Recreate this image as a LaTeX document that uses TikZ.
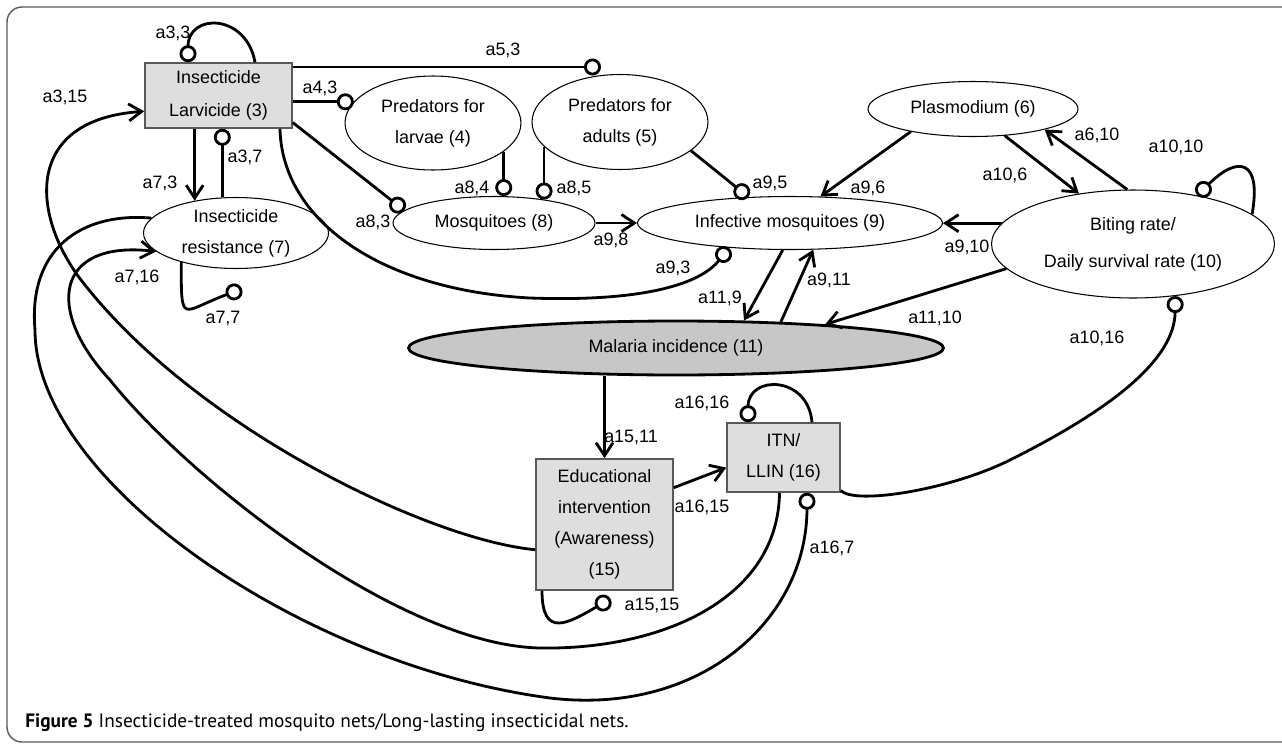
\documentclass[tikz,border=0pt]{standalone}
\usepackage{fontspec}
\setmainfont{Liberation Sans}
\newfontfamily\capfont{PT Sans}
\usetikzlibrary{shapes.geometric,arrows.meta,calc}
\definecolor{boxgray}{gray}{0.87}
\definecolor{malgray}{gray}{0.78}
\definecolor{framegray}{gray}{0.35}
\tikzstyle{box} = [rectangle, draw=black!65, line width=0.9pt, fill=boxgray, inner sep=0pt, align=center]
\tikzstyle{oval} = [ellipse, draw=black, line width=0.6pt, inner sep=0pt, align=center]
\tikzstyle{arr} = [line width=1.6pt, -{Straight Barb[length=0.26cm,width=0.34cm]}]
\tikzstyle{inh} = [line width=1.6pt, -{Circle[length=0.34cm,fill=white]}]
\tikzstyle{lbl} = [inner sep=0pt]

\begin{document}
\begin{tikzpicture}[x=0.02cm, y=-0.02cm, font=\fontsize{10.2}{17.6}\selectfont]
\useasboundingbox (0,0) rectangle (1282,744);

    % Frame
    \draw[framegray, line width=0.8pt, rounded corners=0.3cm] (1282,7) -- (7,7) -- (7,742) -- (1282,742);

    % Interventions and state variables
    \node (n3) at (218.5,95.5) [box, minimum width=2.94cm, minimum height=1.30cm] {Insecticide\\[1pt]Larvicide (3)};
    \node (n4) at (433,123) [oval, minimum width=3.52cm, minimum height=1.88cm] {Predators for\\larvae (4)};
    \node (n5) at (620,122) [oval, minimum width=3.52cm, minimum height=1.9cm] {Predators for\\adults (5)};
    \node (n6) at (973,109) [oval, minimum width=4.2cm, minimum height=1.1cm] {Plasmodium (6)};
    \node (n7) at (236,233) [oval, minimum width=3.7cm, minimum height=1.42cm] {Insecticide\\resistance (7)};
    \node (n8) at (494,223) [oval, minimum width=4.04cm, minimum height=1.06cm] {Mosquitoes (8)};
    \node (n9) at (790,223) [oval, minimum width=6.1cm, minimum height=1.06cm] {Infective mosquitoes (9)};
    \node (n10) at (1133,244) [oval, minimum width=5.66cm, minimum height=2.16cm] {Biting rate/\\[3.4pt]Daily survival rate (10)};
    \node (n11) at (676,348) [oval, fill=malgray, line width=1.6pt, minimum width=10.7cm, minimum height=1.08cm] {Malaria incidence (11)};
    \node (n15) at (604.5,524.5) [box, minimum width=2.74cm, minimum height=2.62cm] {Educational\\intervention\\(Awareness)\\(15)};
    \node (n16) at (783.5,457.5) [box, minimum width=2.26cm, minimum height=1.38cm] {ITN/\\LLIN (16)};

    % Free ends of the lollipops
    \coordinate (t53) at ($(n5.north)+(-19,-7)$);
    \coordinate (t77) at ($(n7.south)+(6,20)$);
    \coordinate (t1515) at ($(n15.south)+(6,8)$);

    % Larvicide links
    \draw[inh] ([xshift=0.73cm]n3.north) to[out=100, in=90, looseness=1.9] ([xshift=-0.61cm]n3.north);
    \draw[arr] (n3.south -| n7.142) -- (n7.142);
    \draw[inh] (n7.111) -- (n7.111 |- n3.south);
    \draw[inh] (n3.east |- n4.165) -- (n4.165);
    \draw[inh] (n3.east |- t53) -- (t53);
    \draw[inh] (n3.-20) -- (n8.172);
    \draw[inh] ([xshift=1.23cm]n3.south) .. controls (282,220) and (380,290) .. (530,298) .. controls (640,302) and (700,285) .. (n9.202);

    % Predators and mosquitoes
    \draw[inh] (n4.-22) -- (n4.-22 |- n8.72);
    \draw[inh] (n5.198) -- (n5.198 |- n8.25);
    \draw[inh] (n5.-22) -- (n9.148);
    \draw[arr] (n8) -- (n9);

    % Plasmodium and biting rate
    \draw[arr] (n6.200) -- (n9.41);
    \draw[arr] (n6.-40) -- (n10.137);
    \draw[arr] (n10.96) -- (n6.-16);
    \draw[inh] (n10.14) to[out=80, in=45, looseness=2.5] (n10.37);
    \draw[arr] (n10.171) -- (n10.171 -| n9.east);
    \draw[arr] (n10.191) -- (n11.9);

    % Malaria incidence
    \draw[arr] (n9.255) -- (n11.22);
    \draw[arr] (n11.14) -- (n9.-49);
    \draw[arr] (n11.south -| n15.north) -- (n15.north);

    % Education and nets
    \draw[arr] (n15.28) -- (n16.190);
    \draw[inh] ([xshift=0.57cm]n16.north) to[out=95, in=90, looseness=1.9] ([xshift=-0.71cm]n16.north);
    \draw[inh] ([xshift=-1.25cm]n15.south) to[out=-90, in=210, looseness=1.8] (t1515);
    \draw[inh] (n7.208) to[out=-90, in=200, looseness=2.5] (t77);
    \draw[inh] (n16.-30) .. controls (855,505) and (950,490) .. (1010,460) .. controls (1110,410) and (1175,360) .. (n10.-51);

    % Long feedback loops
    \draw[arr] ([xshift=-0.08cm]n16.south) .. controls (778,600) and (660,650) .. (540,648) .. controls (400,645) and (190,480) .. (110,380) .. controls (45,310) and (55,240) .. (n7.193);
    \draw[inh] (n7.170) .. controls (80,212) and (28,250) .. (35,330) .. controls (35,480) and (300,665) .. (550,698) .. controls (700,716) and (807,620) .. ([xshift=0.47cm]n16.south);
    \draw[arr] (n15.200) .. controls (430,540) and (200,430) .. (85,285) .. controls (32,220) and (20,120) .. (n3.192);

    % Coefficients
    \node (l33) at (173,33) [lbl] {a3,3};
    \node (l315) at (65,97) [lbl] {a3,15};
    \node (l43) at (320,88) [lbl] {a4,3};
    \node (l53) at (503,50) [lbl] {a5,3};
    \node (l37) at (245,157) [lbl] {a3,7};
    \node (l73) at (160,183) [lbl] {a7,3};
    \node (l83) at (373,222) [lbl] {a8,3};
    \node (l84) at (472,188) [lbl] {a8,4};
    \node (l85) at (574,188) [lbl] {a8,5};
    \node (l98) at (611,240) [lbl] {a9,8};
    \node (l95) at (770,183) [lbl] {a9,5};
    \node (l93) at (673,268) [lbl] {a9,3};
    \node (l96) at (868,188) [lbl] {a9,6};
    \node (l106) at (1005,175) [lbl] {a10,6};
    \node (l610) at (1097,135) [lbl] {a6,10};
    \node (l1010) at (1176,147) [lbl] {a10,10};
    \node (l910) at (967,247) [lbl] {a9,10};
    \node (l1110) at (935,318) [lbl] {a11,10};
    \node (l1016) at (1097,338) [lbl] {a10,16};
    \node (l911) at (829,280) [lbl] {a9,11};
    \node (l119) at (720,298) [lbl] {a11,9};
    \node (l1511) at (631,437) [lbl] {a15,11};
    \node (l1615) at (702,507) [lbl] {a16,15};
    \node (l1616) at (702,403) [lbl] {a16,16};
    \node (l1515) at (652,605) [lbl] {a15,15};
    \node (l167) at (832,548) [lbl] {a16,7};
    \node (l716) at (137,277) [lbl] {a7,16};
    \node (l77) at (223,318) [lbl] {a7,7};

    % Caption
    \node (cap) at (25,723) [anchor=west, inner sep=0pt, font=\capfont\fontsize{11}{13}\selectfont] {\textbf{Figure 5} Insecticide-treated mosquito nets/Long-lasting insecticidal nets.};

\end{tikzpicture}
\end{document}
